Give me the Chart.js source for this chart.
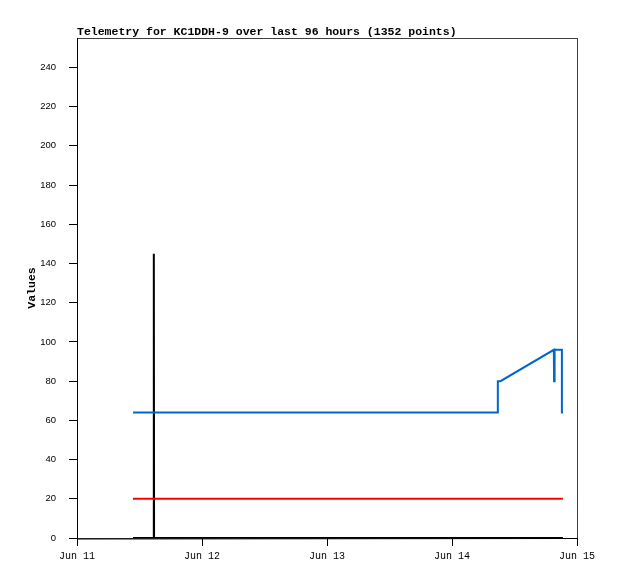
<!DOCTYPE html>
<html>
<head>
<meta charset="utf-8">
<script src="https://cdn.jsdelivr.net/npm/chart.js@4/dist/chart.umd.min.js"></script>
<style>
  html, body { margin: 0; padding: 0; background: #fff; }
  #wrap { width: 618px; height: 579px; }
</style>
</head>
<body>
<div id="wrap"><canvas id="chart" width="618" height="579"></canvas></div>
<script>
// hours since Jun 11 00:00
const dayLabels = ['Jun 11', 'Jun 12', 'Jun 13', 'Jun 14', 'Jun 15'];
const yTicks = [0, 20, 40, 60, 80, 100, 120, 140, 160, 180, 200, 220, 240];

const blackHours = [10.75, 14.75, 14.75, 14.8, 93.3];
const blackValues = [0, 0, 145, 0, 0];

const redHours = [10.75, 93.3];
const redValues = [20, 20];

const blueHours = [10.75, 80.8, 80.8, 81.3, 91.55, 91.6, 91.7, 93.1, 93.1, 93.3];
const blueValues = [64, 64, 80, 80, 96, 80, 96, 96, 64, 64];

const titleText = 'Telemetry for KC1DDH-9 over last 96 hours (1352 points)';

const monoFamily = '"Liberation Mono", "DejaVu Sans Mono", monospace';

function toPoints(xs, ys) {
    return xs.map((x, i) => ({ x: x, y: ys[i] }));
}

// frame around the plot + title text
const framePlugin = {
    id: 'frame',
    afterDraw(chart) {
        const ctx = chart.ctx;
        const a = chart.chartArea;
        ctx.save();
        ctx.strokeStyle = '#404040';
        ctx.lineWidth = 1;
        ctx.strokeRect(Math.round(a.left) + 0.5, Math.round(a.top) + 0.5,
            Math.round(a.right - a.left), Math.round(a.bottom - a.top));
        ctx.strokeStyle = '#000';
        ctx.beginPath();
        ctx.moveTo(Math.round(a.left) + 0.5, Math.round(a.top));
        ctx.lineTo(Math.round(a.left) + 0.5, Math.round(a.bottom) + 1);
        ctx.lineTo(Math.round(a.right) + 1, Math.round(a.bottom) + 0.5);
        ctx.stroke();
        ctx.fillStyle = '#000';
        ctx.font = 'bold 11.5px ' + monoFamily;
        ctx.textBaseline = 'middle';
        ctx.textAlign = 'left';
        ctx.fillText(titleText, 77, 32);
        ctx.restore();
    }
};

new Chart(document.getElementById('chart'), {
    type: 'line',
    data: {
        datasets: [
            { data: toPoints(redHours, redValues), borderColor: '#ff0000', borderWidth: 2, pointRadius: 0, fill: false, tension: 0 },
            { data: toPoints(blueHours, blueValues), borderColor: '#0066cc', borderWidth: 2, pointRadius: 0, fill: false, tension: 0 },
            { data: toPoints(blackHours, blackValues), borderColor: '#000000', borderWidth: 2, pointRadius: 0, fill: false, tension: 0 }
        ]
    },
    options: {
        responsive: false,
        animation: false,
        events: [],
        layout: { padding: { top: 38, right: 41, left: 0, bottom: 0 } },
        plugins: {
            legend: { display: false },
            title: { display: false },
            tooltip: { enabled: false }
        },
        scales: {
            x: {
                type: 'linear',
                min: 0,
                max: 96,
                afterFit(scale) { scale.height = 41; },
                afterBuildTicks(scale) {
                    scale.ticks = dayLabels.map((l, i) => ({ value: i * 24 }));
                },
                border: { display: false },
                grid: { drawOnChartArea: false, drawTicks: true, tickLength: 8, color: '#000', lineWidth: 1 },
                ticks: {
                    color: '#000',
                    font: { family: monoFamily, size: 10 },
                    padding: 4,
                    maxRotation: 0,
                    callback: (v) => dayLabels[Math.round(v / 24)]
                }
            },
            y: {
                min: 0,
                max: 255,
                afterFit(scale) { scale.width = 77; },
                afterBuildTicks(scale) {
                    scale.ticks = yTicks.map(v => ({ value: v }));
                },
                border: { display: false },
                grid: { drawOnChartArea: false, drawTicks: true, tickLength: 8, color: '#000', lineWidth: 1 },
                ticks: { color: '#000', font: { family: '"Liberation Sans", Arial, sans-serif', size: 9.5 }, padding: 13 },
                title: {
                    display: true,
                    text: 'Values',
                    color: '#000',
                    font: { family: monoFamily, size: 11.5, weight: 'bold' },
                    padding: { top: 25, bottom: 0 }
                }
            }
        }
    },
    plugins: [framePlugin]
});
</script>
</body>
</html>
